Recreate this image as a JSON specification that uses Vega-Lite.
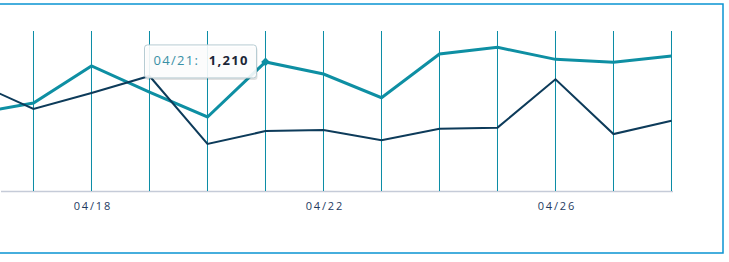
{
  "$schema": "https://vega.github.io/schema/vega-lite/v6.json",
  "width": 726,
  "height": 249,
  "autosize": {"type": "none"},
  "padding": {"left": -3, "top": 4, "right": 6, "bottom": 9},
  "background": "white",
  "config": {"view": {"stroke": "#0a94d2", "strokeWidth": 1.5}},
  "datasets": {
    "series": [
      {"date": "2024-04-16", "series": "A", "value": 727},
      {"date": "2024-04-17", "series": "A", "value": 825},
      {"date": "2024-04-18", "series": "A", "value": 1172},
      {"date": "2024-04-19", "series": "A", "value": 928},
      {"date": "2024-04-20", "series": "A", "value": 694},
      {"date": "2024-04-21", "series": "A", "value": 1210},
      {"date": "2024-04-22", "series": "A", "value": 1097},
      {"date": "2024-04-23", "series": "A", "value": 875},
      {"date": "2024-04-24", "series": "A", "value": 1284},
      {"date": "2024-04-25", "series": "A", "value": 1347},
      {"date": "2024-04-26", "series": "A", "value": 1234},
      {"date": "2024-04-27", "series": "A", "value": 1206},
      {"date": "2024-04-28", "series": "A", "value": 1266},
      {"date": "2024-04-16", "series": "B", "value": 1016},
      {"date": "2024-04-17", "series": "B", "value": 769},
      {"date": "2024-04-18", "series": "B", "value": 919},
      {"date": "2024-04-19", "series": "B", "value": 1078},
      {"date": "2024-04-20", "series": "B", "value": 441},
      {"date": "2024-04-21", "series": "B", "value": 562},
      {"date": "2024-04-22", "series": "B", "value": 572},
      {"date": "2024-04-23", "series": "B", "value": 475},
      {"date": "2024-04-24", "series": "B", "value": 584},
      {"date": "2024-04-25", "series": "B", "value": 594},
      {"date": "2024-04-26", "series": "B", "value": 1047},
      {"date": "2024-04-27", "series": "B", "value": 534},
      {"date": "2024-04-28", "series": "B", "value": 659}
    ],
    "grid": [
      {"date": "2024-04-17"}, {"date": "2024-04-18"}, {"date": "2024-04-19"},
      {"date": "2024-04-20"}, {"date": "2024-04-21"}, {"date": "2024-04-22"},
      {"date": "2024-04-23"}, {"date": "2024-04-24"}, {"date": "2024-04-25"},
      {"date": "2024-04-26"}, {"date": "2024-04-27"}, {"date": "2024-04-28"}
    ],
    "tip": [
      {"date": "2024-04-21", "value": 1210, "label": "04/21:"}
    ]
  },
  "layer": [
    {
      "data": {"name": "grid"},
      "mark": {"type": "tick", "orient": "vertical", "size": 160, "thickness": 1, "color": "#0a8ca5", "opacity": 1},
      "encoding": {
        "x": {
          "field": "date", "type": "temporal",
          "scale": {
            "type": "utc",
            "domain": [
              {"year": 2024, "month": 4, "date": 16, "hours": 10, "minutes": 21, "utc": true},
              {"year": 2024, "month": 4, "date": 28, "hours": 0, "minutes": 25, "utc": true}
            ],
            "range": [3.5, 675.5]
          },
          "axis": {
            "title": null,
            "offset": -62,
            "values": [
              {"year": 2024, "month": 4, "date": 18, "utc": true},
              {"year": 2024, "month": 4, "date": 22, "utc": true},
              {"year": 2024, "month": 4, "date": 26, "utc": true}
            ],
            "labelExpr": "replace(utcFormat(datum.value, '%m/%d'), regexp('(.)(?!$)', 'g'), '$1\u2009')",
            "grid": false,
            "ticks": false,
            "domainColor": "#c5cbd8",
            "domainWidth": 1.5,
            "labelColor": "#1e3a5f",
            "labelFont": "Open Sans",
            "labelFontSize": 11,
            "labelPadding": 9
          }
        },
        "y": {"datum": 750, "type": "quantitative", "scale": {"domain": [0, 1500], "range": [187, 27], "nice": false}, "axis": null}
      }
    },
    {
      "data": {"name": "series"},
      "mark": {"type": "line", "clip": true},
      "encoding": {
        "x": {"field": "date", "type": "temporal"},
        "y": {"field": "value", "type": "quantitative", "axis": null},
        "color": {"field": "series", "type": "nominal", "scale": {"domain": ["A", "B"], "range": ["#0e8fa3", "#0d3b5a"]}, "legend": null},
        "strokeWidth": {"field": "series", "type": "nominal", "scale": {"domain": ["A", "B"], "range": [3, 2]}, "legend": null},
        "order": {"field": "series", "sort": "descending"}
      }
    },
    {
      "data": {"name": "tip"},
      "mark": {"type": "point", "shape": "diamond", "size": 75, "filled": true, "color": "#0e8fa3", "opacity": 1},
      "encoding": {
        "x": {"field": "date", "type": "temporal"},
        "y": {"field": "value", "type": "quantitative", "axis": null}
      }
    },
    {
      "data": {"name": "tip"},
      "mark": {
        "type": "point", "filled": true, "color": "#000000", "opacity": 0.12, "size": 4,
        "xOffset": -64, "yOffset": 1.5,
        "shape": "M-53,-16.5 H53 Q56,-16.5 56,-13.5 V13.5 Q56,16.5 53,16.5 H-53 Q-56,16.5 -56,13.5 V-13.5 Q-56,-16.5 -53,-16.5 Z"
      },
      "encoding": {
        "x": {"field": "date", "type": "temporal"},
        "y": {"field": "value", "type": "quantitative", "axis": null}
      }
    },
    {
      "data": {"name": "tip"},
      "mark": {
        "type": "point", "filled": true, "fill": "#ffffff", "fillOpacity": 0.9, "stroke": "#b7ccd3", "strokeWidth": 1, "opacity": 1, "size": 4,
        "xOffset": -65, "yOffset": -0.5,
        "shape": "M-53,-16.5 H53 Q56,-16.5 56,-13.5 V13.5 Q56,16.5 53,16.5 H-53 Q-56,16.5 -56,13.5 V-13.5 Q-56,-16.5 -53,-16.5 Z"
      },
      "encoding": {
        "x": {"field": "date", "type": "temporal"},
        "y": {"field": "value", "type": "quantitative", "axis": null}
      }
    },
    {
      "data": {"name": "tip"},
      "transform": [{"calculate": "replace(datum.label, regexp('(.)(?!$)', 'g'), '$1\u200A')", "as": "shown"}],
      "mark": {"type": "text", "align": "left", "baseline": "alphabetic", "dx": -112, "dy": 3, "font": "Open Sans", "fontSize": 13, "color": "#3a90a6"},
      "encoding": {
        "x": {"field": "date", "type": "temporal"},
        "y": {"field": "value", "type": "quantitative", "axis": null},
        "text": {"field": "shown"}
      }
    },
    {
      "data": {"name": "tip"},
      "transform": [{"calculate": "replace(format(datum.value, ','), regexp('(.)(?!$)', 'g'), '$1\u200A')", "as": "shown"}],
      "mark": {"type": "text", "align": "right", "baseline": "alphabetic", "dx": -18, "dy": 3, "font": "Open Sans", "fontSize": 13, "fontWeight": "bold", "color": "#1b2536"},
      "encoding": {
        "x": {"field": "date", "type": "temporal"},
        "y": {"field": "value", "type": "quantitative", "axis": null},
        "text": {"field": "shown"}
      }
    }
  ]
}
